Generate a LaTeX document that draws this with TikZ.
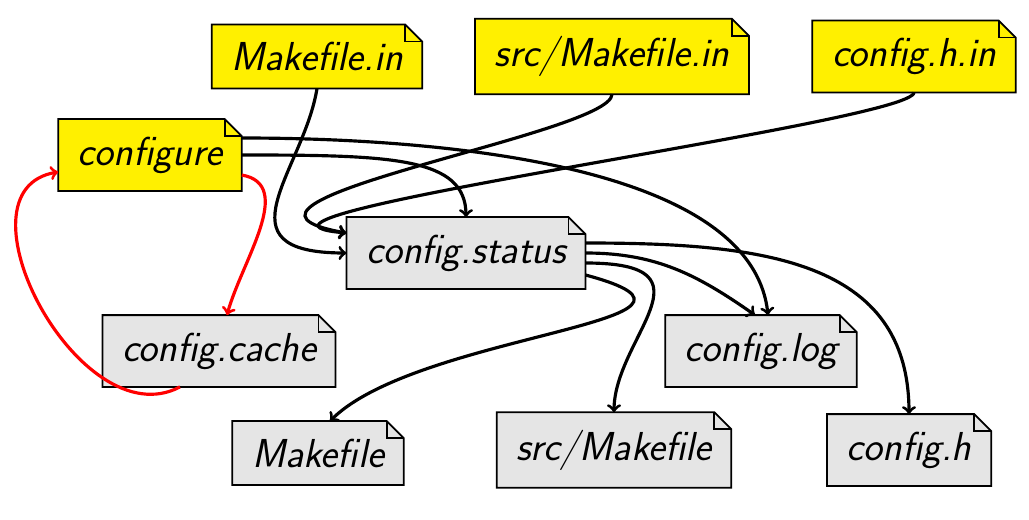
\documentclass[tikz,border=0pt]{standalone}
\usepackage{xcolor}
\usepackage{tikz}
\usetikzlibrary{arrows,backgrounds,calc}
\definecolor{inyellow}{RGB}{255,240,0}
\definecolor{outgray}{RGB}{229,229,229}

\begin{document}
\begin{tikzpicture}[
            every node/.style={font=\fontsize{23}{27}\selectfont\sffamily\itshape},
            file/.style={inner xsep=11pt, inner ysep=9.8pt},
            dogear/.style={draw, line width=1pt, line join=miter},
            flow/.style={->, line width=1.8pt},
            redflow/.style={->, line width=1.8pt, red},
        ]
            \useasboundingbox (0,0) rectangle (20.58,10.38);

            % inputs
            \node[file] (mkin) at (6.34,9.25) {Makefile.in};
            \node[file] (srcmkin) at (12.24,9.25) {src/Makefile.in};
            \node[file] (confhin) at (18.28,9.25) {config.h.in};
            \node[file] (configure) at (3.00,7.28) {configure};

            % outputs
            \node[file] (status) at (9.32,5.32) {config.status};
            \node[file] (cache) at (4.38,3.36) {config.cache};
            \node[file] (log) at (15.22,3.36) {config.log};
            \node[file] (mk) at (6.36,1.32) {Makefile};
            \node[file] (srcmk) at (12.28,1.38) {src/Makefile};
            \node[file] (confh) at (18.18,1.38) {config.h};

            % file shapes with folded corner
            \begin{pgfonlayer}{background}
                \foreach \n/\c in {mkin/inyellow, srcmkin/inyellow, confhin/inyellow, configure/inyellow,
                        status/outgray, cache/outgray, log/outgray, mk/outgray, srcmk/outgray, confh/outgray}{
                    \draw[dogear, fill=\c] (\n.south west) -- (\n.north west) -- ([xshift=-3.4mm]\n.north east)
                        -- ([yshift=-3.4mm]\n.north east) -- (\n.south east) -- cycle;
                    \draw[dogear] ([xshift=-3.4mm]\n.north east) |- ([yshift=-3.4mm]\n.north east);
                }
            \end{pgfonlayer}

            \draw[flow] (configure.east) .. controls +(0:3) and +(90:1.2) .. (status.north);
            \draw[flow] ([yshift=3.4mm]configure.east) .. controls +(0:2.8) and +(96:3.3) .. ([xshift=1.4mm]log.north);
            \draw[redflow] ([yshift=-4mm]configure.east) to[out=-10,in=75] ([xshift=1.6mm]cache.north);
            \draw[redflow] ([xshift=-7.8mm]cache.south) .. controls +(208:2.27) and +(189:2.23) .. ([yshift=-3.4mm]configure.west);

            \draw[flow] (mkin.south) .. controls +(261:1.66) and +(180:2.64) .. (status.west);
            \draw[flow] (srcmkin.south) .. controls +(-90:0.8) and +(170:3.5) .. ([yshift=4mm]status.west);
            \draw[flow] (confhin.south) .. controls +(-90:0.6) and +(175:3.5) .. ([yshift=4mm]status.west);

            \draw[flow] ([yshift=2mm]status.east) .. controls +(0:3.5) and +(90:3.1) .. (confh.north);
            \draw[flow] (status.east) to[out=0,in=145] ([xshift=-1.2mm]log.north);
            \draw[flow] ([yshift=-2mm]status.east) .. controls +(0:2.7) and +(90:1.5) .. (srcmk.north);
            \draw[flow] ([yshift=-4.4mm]status.east) .. controls +(-15:3.6) and +(45:2.5) .. ([xshift=2.4mm]mk.north);
        \end{tikzpicture}
\end{document}
